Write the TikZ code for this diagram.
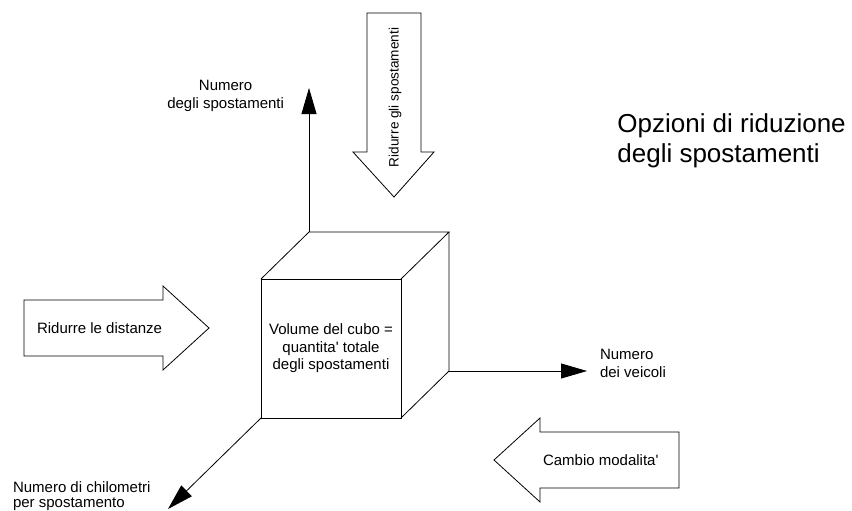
\documentclass[tikz,border=0pt]{standalone}
\usepackage{fontspec}
\setmainfont{Liberation Sans}
\usetikzlibrary{positioning,arrows.meta}

\begin{document}
\begin{tikzpicture}[x=1pt, y=1pt, line width=0.8pt,
    lbl/.style={inner sep=0pt, outer sep=0pt, font=\fontsize{15}{17.5}\selectfont},
    axis/.style={-{Triangle[length=26pt, width=15pt]}},
    blockarrow/.style={draw, line join=miter}]

    \useasboundingbox (0,0) rectangle (852,-511);

    %%%%%%%%%%%%%%%%%%%%%
    % Cube
    %%%%%%%%%%%%%%%%%%%%%
    \node[draw, lbl, minimum width=140pt, minimum height=139pt, align=center] (front) at (331,-348.5) {Volume del cubo =\\quantita\textquotesingle{} totale\\degli spostamenti};
    \path (front.north west) ++(48,47) coordinate (btl);
    \path (front.north east) ++(48,47) coordinate (btr);
    \path (front.south east) ++(48,47) coordinate (bbr);
    \draw (front.north west) -- (btl) -- (btr) -- (front.north east);
    \draw (btr) -- (bbr) -- (front.south east);

    %%%%%%%%%%%%%%%%%%%%%
    % Axes
    %%%%%%%%%%%%%%%%%%%%%
    \coordinate[above=144pt of btl] (ytip);
    \coordinate[right=138pt of bbr] (xtip);
    \coordinate (ztip) at ([shift={(-93,-91)}]front.south west);
    \draw[axis] (btl) -- (ytip);
    \draw[axis] (bbr) -- (xtip);
    \draw[axis] (front.south west) -- (ztip);

    \node[lbl, align=center, left=25pt of ytip, yshift=-8pt] (ylab) {Numero\\degli spostamenti};
    \node[lbl, align=left, right=13pt of xtip, yshift=7.5pt] (xlab) {Numero\\dei veicoli};
    \node[lbl, align=left, anchor=west, font=\fontsize{15}{15}\selectfont] (zlab) at (13,-496.5) {Numero di chilometri\\per spostamento};

    %%%%%%%%%%%%%%%%%%%%%
    % Options
    %%%%%%%%%%%%%%%%%%%%%
    \draw[blockarrow] (24,-300) -- (163,-300) -- (163,-286) -- (209,-328) -- (163,-370) -- (163,-356) -- (24,-356) -- cycle;
    \node[lbl, anchor=west] (dist) at (37,-328) {Ridurre le distanze};

    \draw[blockarrow] (367,-13) -- (421,-13) -- (421,-152) -- (434,-152) -- (394,-197) -- (353,-152) -- (367,-152) -- cycle;
    \node[lbl, anchor=west, rotate=90, font=\fontsize{13.6}{16}\selectfont] (spost) at (395,-167) {Ridurre gli spostamenti};

    \draw[blockarrow] (494,-460) -- (540,-418) -- (540,-432) -- (679,-432) -- (679,-488) -- (540,-488) -- (540,-502) -- cycle;
    \node[lbl, anchor=west] (modal) at (543,-460) {Cambio modalita\textquotesingle};

    \node[anchor=base west, align=left, inner sep=0pt, font=\fontsize{26}{30}\selectfont] (title) at (617,-162) {Opzioni di riduzione\\degli spostamenti};

\end{tikzpicture}
\end{document}
